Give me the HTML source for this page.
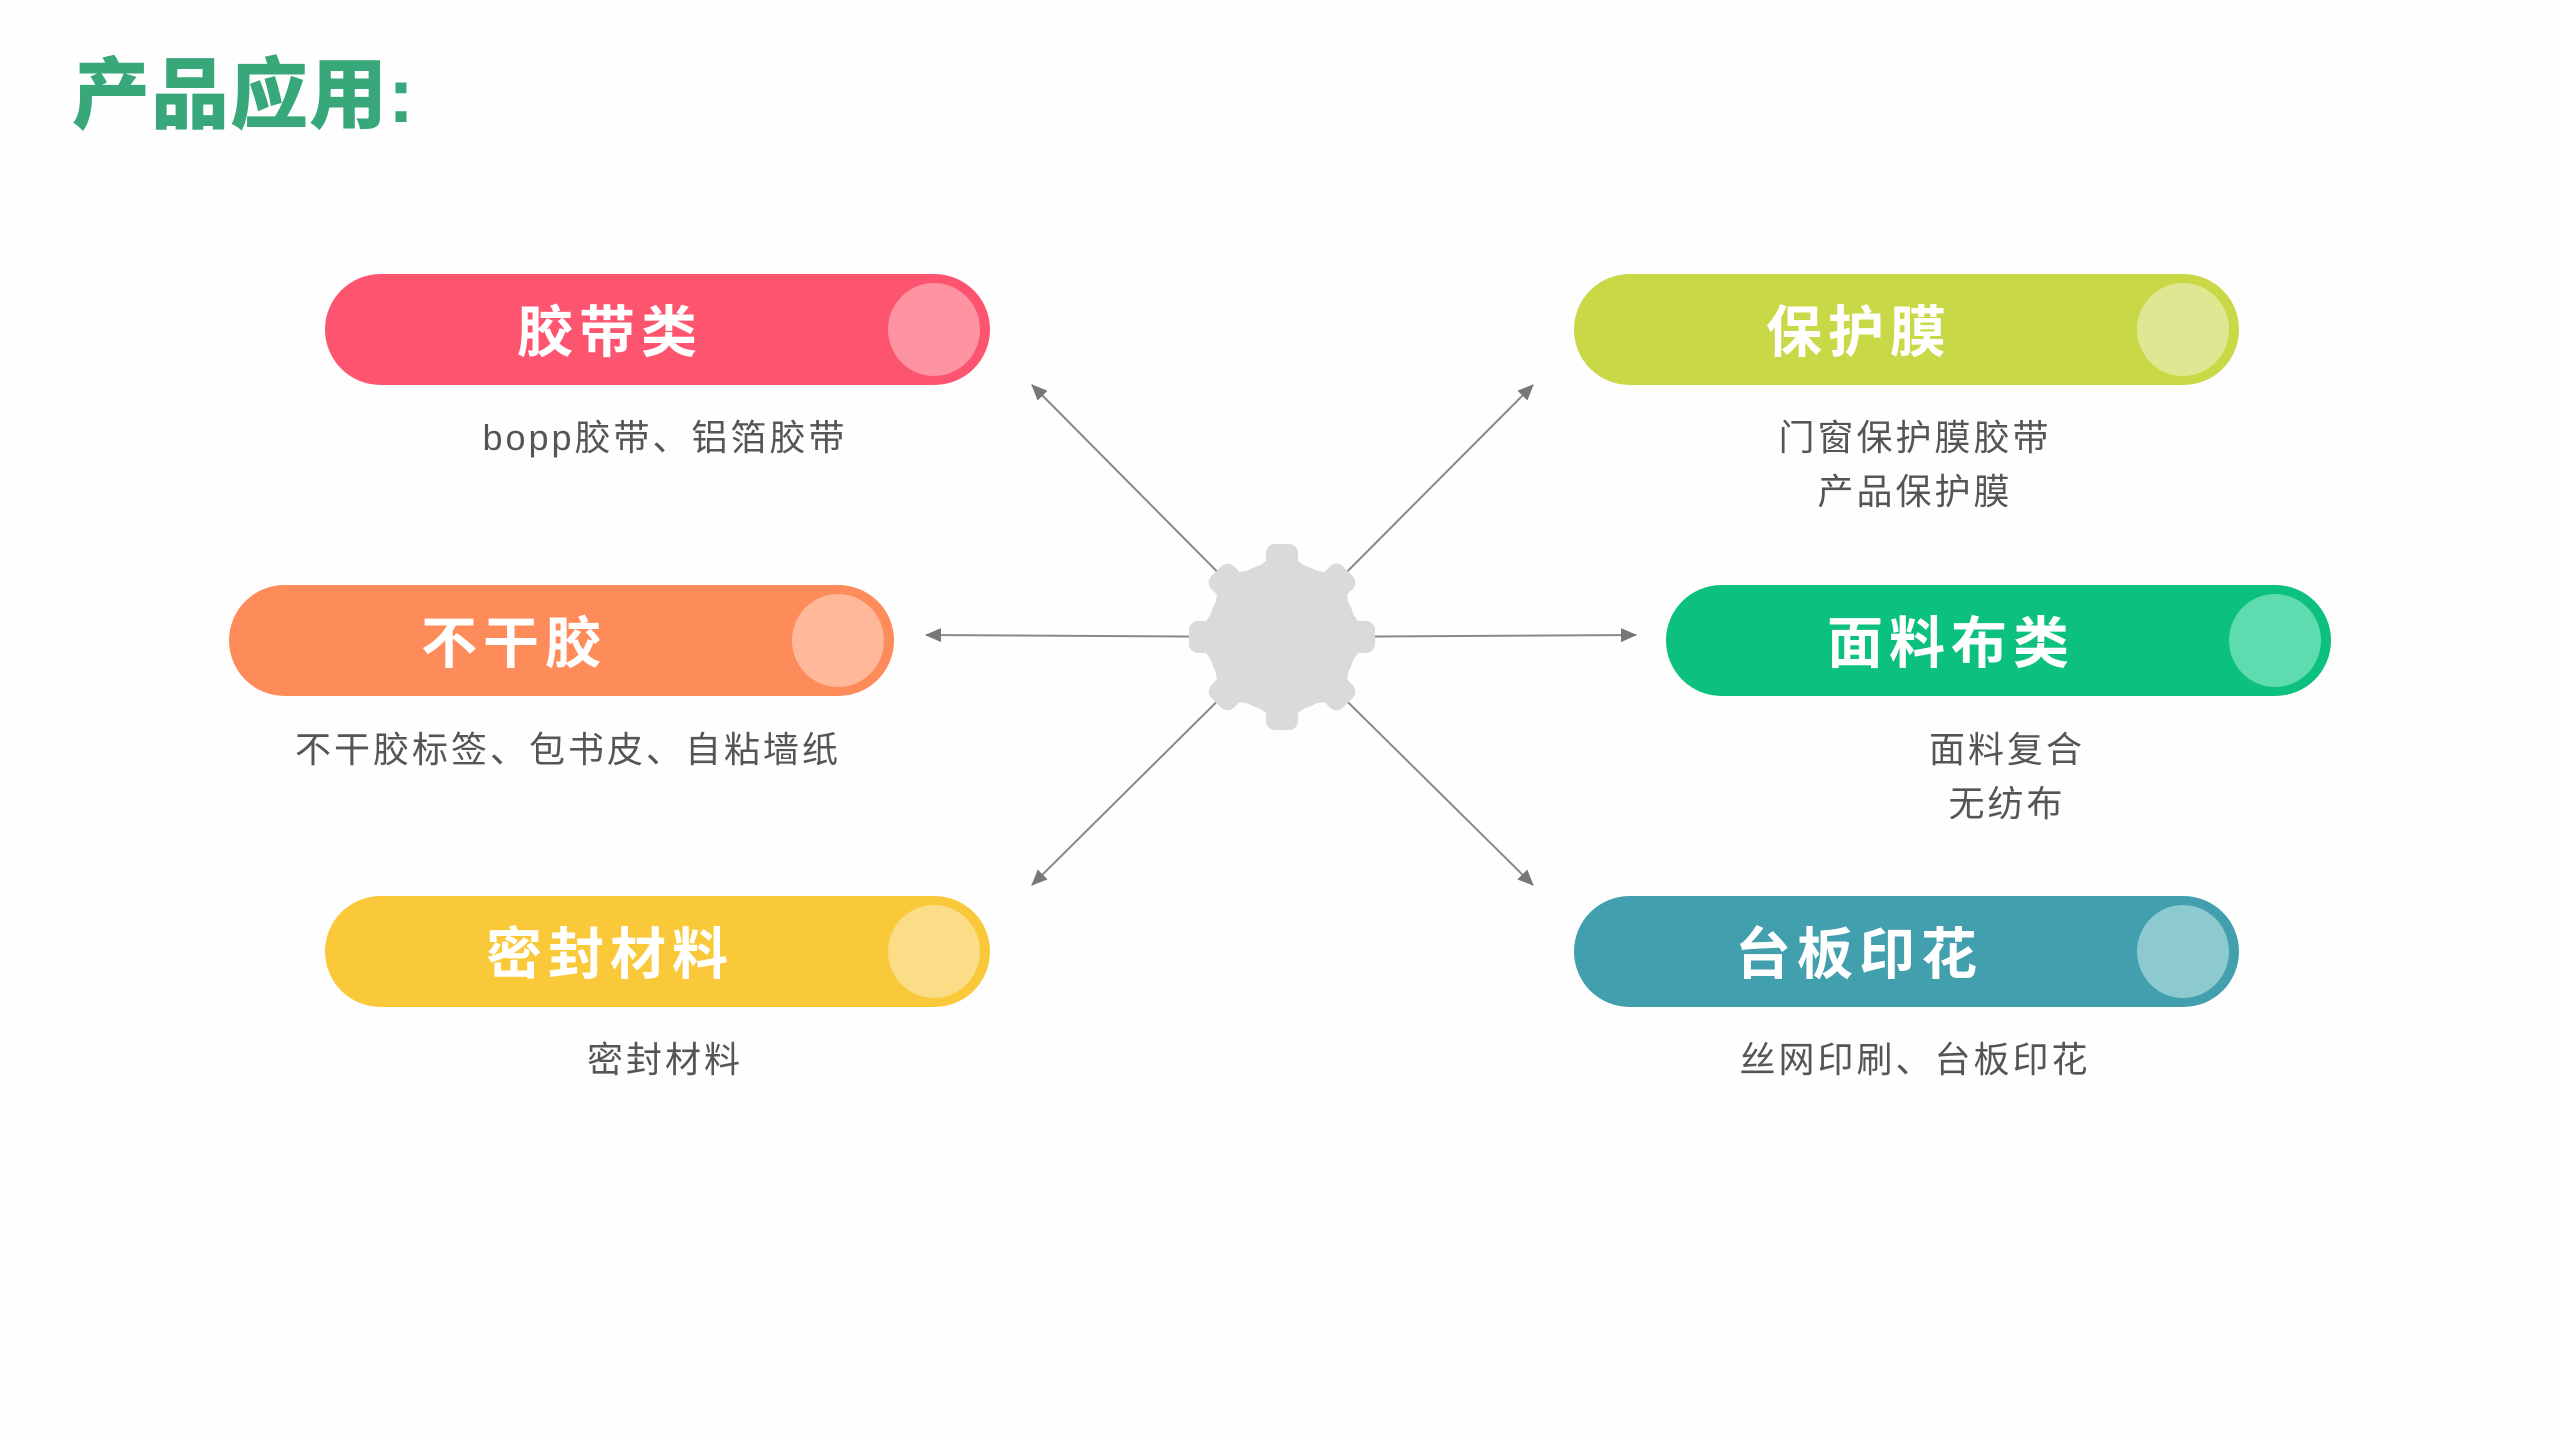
<!DOCTYPE html>
<html><head><meta charset="utf-8"><style>
html,body{margin:0;padding:0}
body{width:2560px;height:1440px;position:relative;overflow:hidden;background:#fefefe;font-family:"Liberation Sans","Noto Sans CJK SC",sans-serif}
.title{position:absolute;left:72px;top:50px;font-size:78px;font-weight:900;color:#38a77a;line-height:90px;letter-spacing:1px}
.pill{position:absolute;width:665px;height:111px;border-radius:56px}
.pill .c{position:absolute;right:10px;top:9px;width:92px;height:93px;border-radius:50%}
.pill .t{position:absolute;left:4px;width:562px;top:3px;line-height:111px;text-align:center;color:#fff;font-size:56px;font-weight:bold;letter-spacing:6px}
.cap{position:absolute;width:800px;text-align:center;font-size:36px;color:#555;line-height:54px;letter-spacing:3px}
</style></head><body>
<div class="title">产品应用:</div>

<svg width="2560" height="1440" style="position:absolute;left:0;top:0">
<defs><marker id="a" markerWidth="16" markerHeight="14" refX="15" refY="7" orient="auto" markerUnits="userSpaceOnUse"><path d="M0,0 L16,7 L0,14z" fill="#777"/></marker></defs>
<g stroke="#888" stroke-width="2" marker-end="url(#a)">
<line x1="1282" y1="637" x2="1032" y2="385"/>
<line x1="1282" y1="637" x2="1533" y2="385"/>
<line x1="1282" y1="637" x2="926" y2="635"/>
<line x1="1282" y1="637" x2="1636" y2="635"/>
<line x1="1282" y1="637" x2="1032" y2="885"/>
<line x1="1282" y1="637" x2="1533" y2="885"/>
</g>
<g fill="#dadada" transform="translate(1282,637)">
<circle r="75"/>
<g id="tt"><rect x="-16" y="-93" width="32" height="40" rx="9"/><path d="M-30,-66 L-16,-76 L16,-76 L30,-66 Z"/></g>
<use href="#tt" transform="rotate(45)"/><use href="#tt" transform="rotate(90)"/><use href="#tt" transform="rotate(135)"/>
<use href="#tt" transform="rotate(180)"/><use href="#tt" transform="rotate(225)"/><use href="#tt" transform="rotate(270)"/><use href="#tt" transform="rotate(315)"/>
</g>
</svg>

<div class="pill" style="left:325px;top:274px;background:#fd5570"><div class="c" style="background:#fe94a2"></div><div class="t">胶带类</div></div>
<div class="pill" style="left:229px;top:585px;background:#fe8b5a"><div class="c" style="background:#ffb89a"></div><div class="t">不干胶</div></div>
<div class="pill" style="left:325px;top:896px;background:#f9c93a"><div class="c" style="background:#fbdd88"></div><div class="t">密封材料</div></div>
<div class="pill" style="left:1574px;top:274px;background:#c9d846"><div class="c" style="background:#e0e792"></div><div class="t">保护膜</div></div>
<div class="pill" style="left:1666px;top:585px;background:#0cc07d"><div class="c" style="background:#5fdcaf"></div><div class="t">面料布类</div></div>
<div class="pill" style="left:1574px;top:896px;background:#419fae"><div class="c" style="background:#8ccad0"></div><div class="t">台板印花</div></div>

<div class="cap" style="left:265px;top:411px">bopp胶带、铝箔胶带</div>
<div class="cap" style="left:168px;top:723px">不干胶标签、包书皮、自粘墙纸</div>
<div class="cap" style="left:265px;top:1033px">密封材料</div>
<div class="cap" style="left:1515px;top:411px">门窗保护膜胶带<br>产品保护膜</div>
<div class="cap" style="left:1607px;top:723px">面料复合<br>无纺布</div>
<div class="cap" style="left:1515px;top:1033px">丝网印刷、台板印花</div>
</body></html>
